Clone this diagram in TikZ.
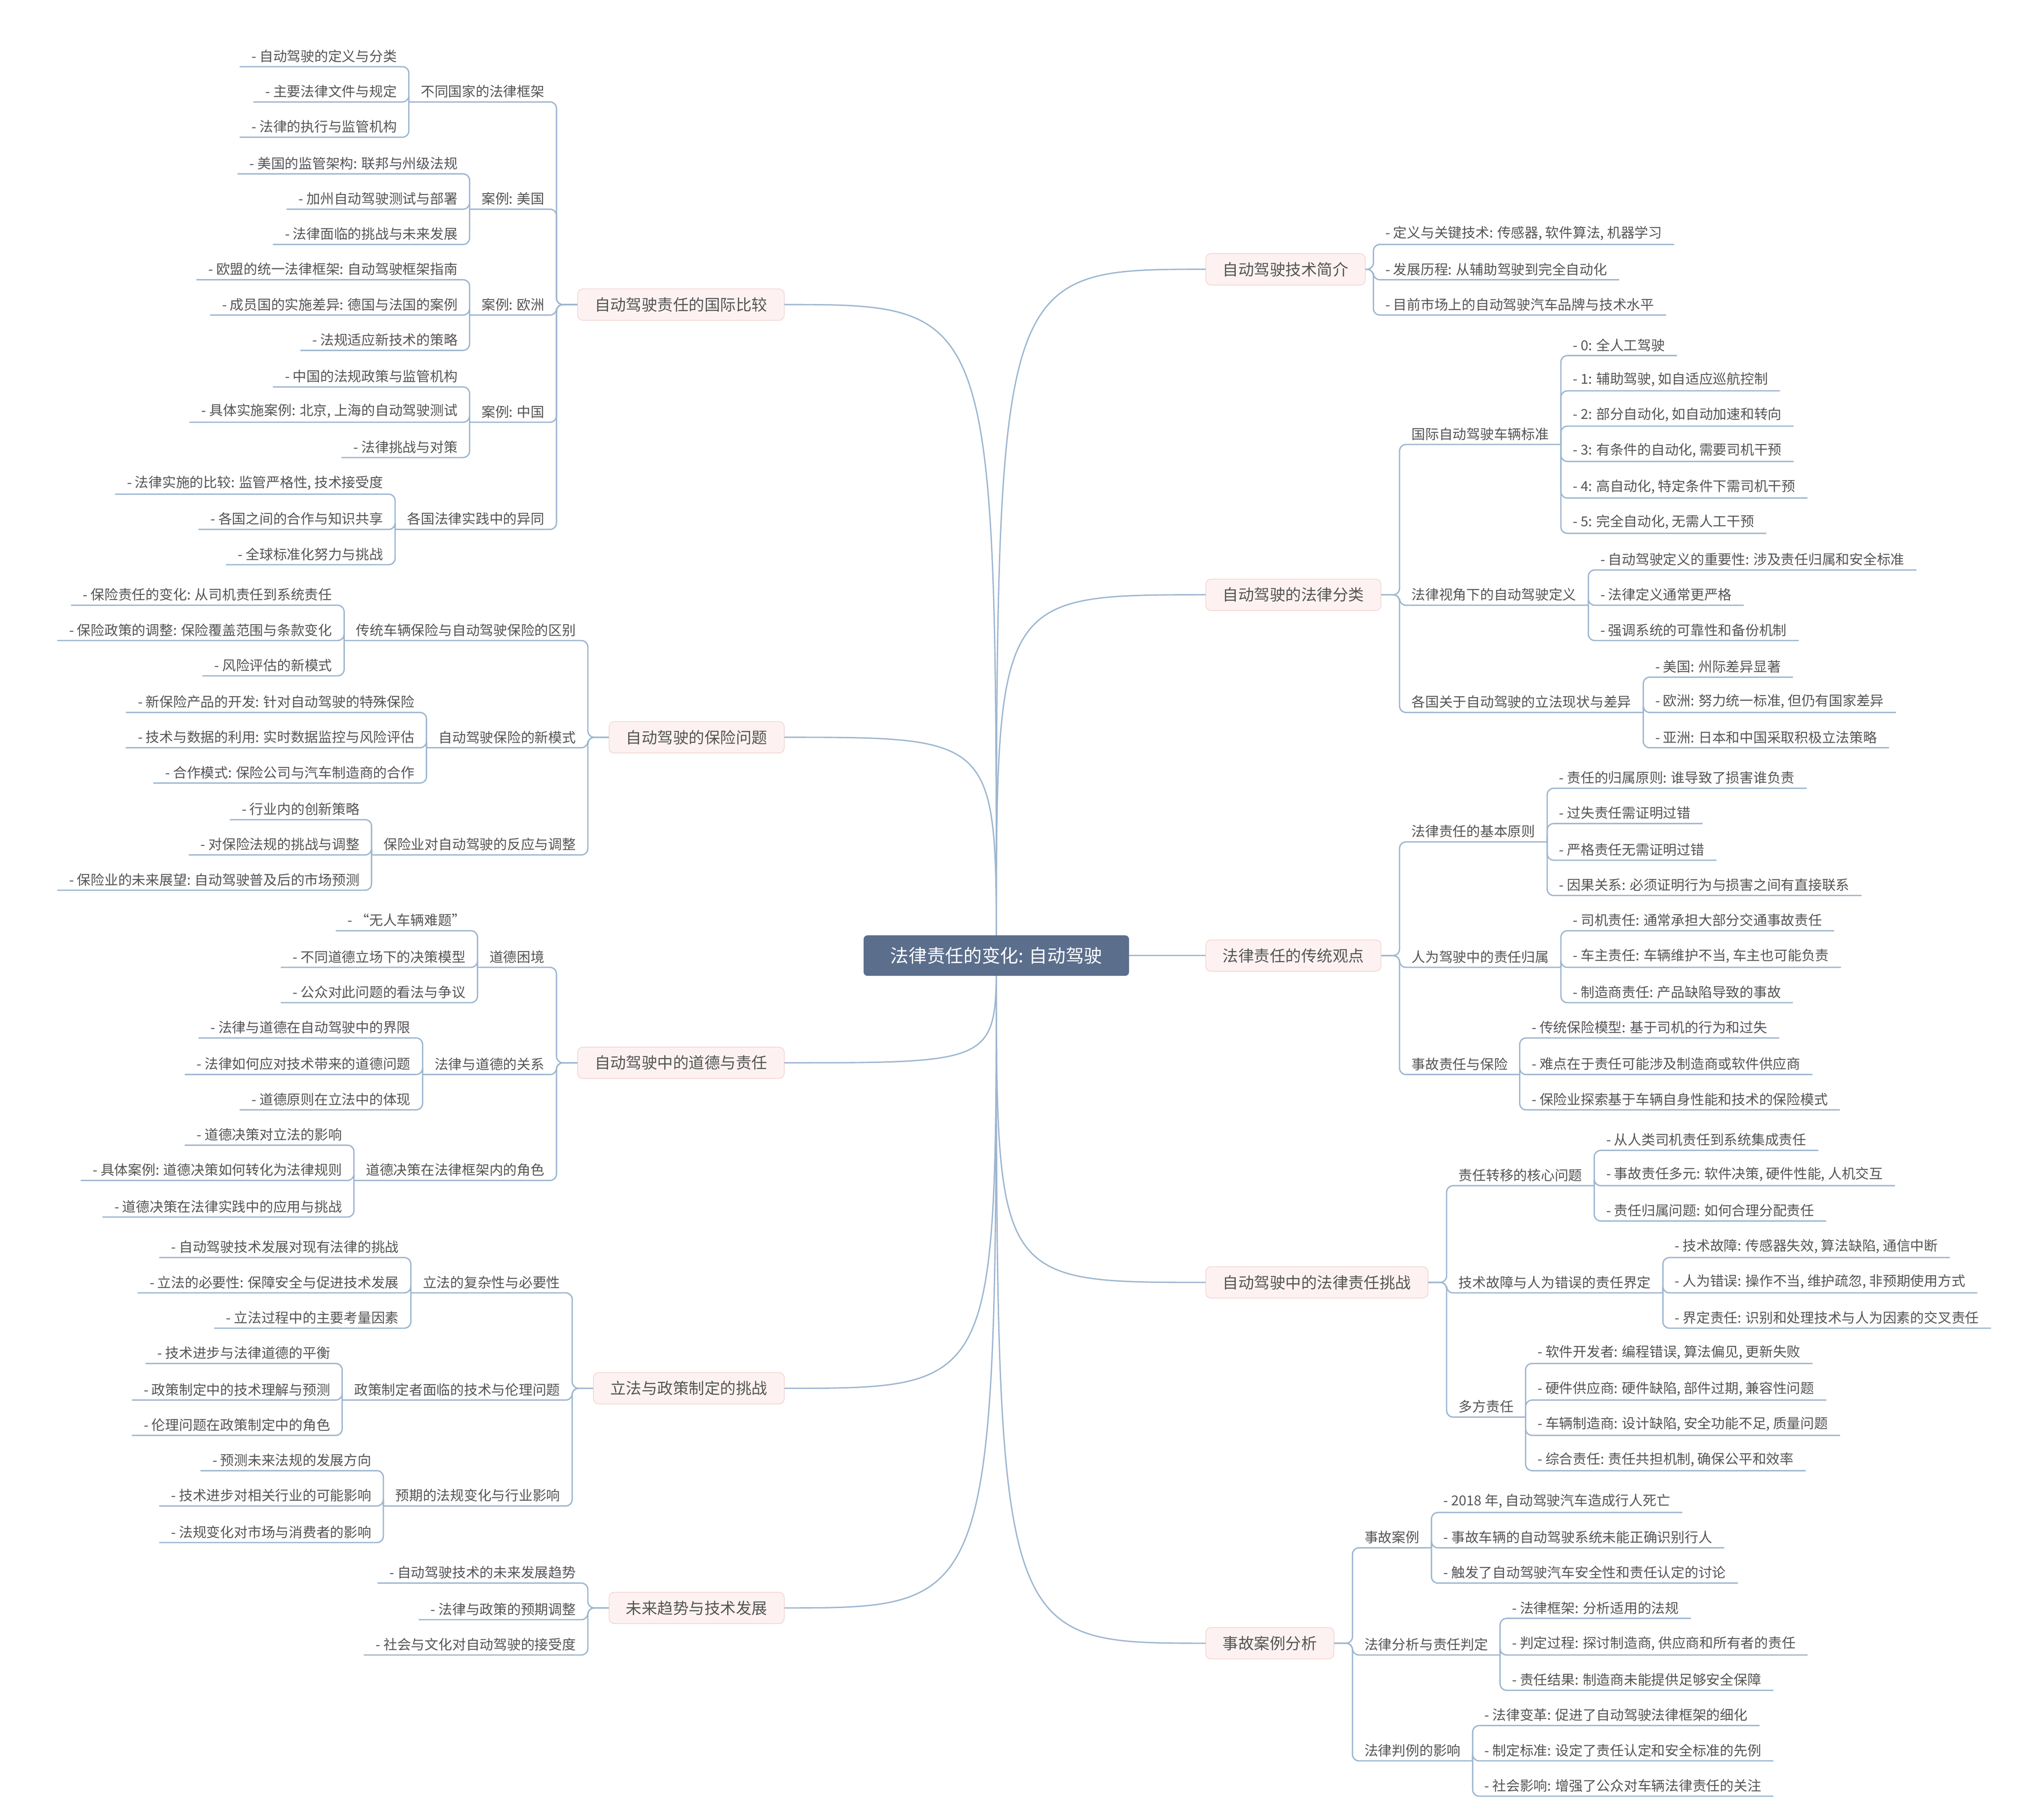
\documentclass[tikz,border=0pt]{standalone}
\usepackage{fontspec}
\setmainfont{Noto Sans CJK SC}
\usetikzlibrary{calc}
\definecolor{lc}{HTML}{9DB6D0}
\definecolor{tc}{HTML}{555555}
\definecolor{mf}{HTML}{FDF2F1}
\definecolor{md}{HTML}{EFC9C5}
\definecolor{cf}{HTML}{5B6E8C}
\newcount\kc
\tikzset{
 conn/.style={draw=lc,line width=1pt,rounded corners=5pt},
 txt/.style={inner xsep=9pt,inner ysep=3pt,text=tc,font=\fontsize{10.5}{12}\selectfont},
 mainn/.style={draw=md,fill=mf,rounded corners=4pt,text=tc,font=\fontsize{12}{14}\selectfont,inner xsep=13pt,minimum height=24pt},
 cen/.style={fill=cf,rounded corners=3pt,text=white,font=\fontsize{14}{16}\selectfont,minimum width=203pt,minimum height=31pt}
}
\newcommand\mygrp[2]{\coordinate (gp) at (#1);\coordinate (gb) at ($(#1)+(#2,0)$);}
\newcommand\kidR[3]{\coordinate (y#3) at (0,#1);
 \node[txt,anchor=south west] (#3) at (gb |- y#3) {#2};
 \draw[conn] (gp) -| (gb |- y#3) -- (#3.south east);}
\newcommand\kidL[3]{\coordinate (y#3) at (0,#1);
 \node[txt,anchor=south east] (#3) at (gb |- y#3) {#2};
 \draw[conn] (gp) -| (gb |- y#3) -- (#3.south west);}
\newcommand\leafR[2]{\global\advance\kc by1\edef\nm{n\the\kc}\kidR{#1}{#2}{\nm}}
\newcommand\leafL[2]{\global\advance\kc by1\edef\nm{n\the\kc}\kidL{#1}{#2}{\nm}}
\newcommand\mainR[3]{\node[mainn,anchor=west] (#3) at (922,#1) {#2};
 \draw[conn] (c) .. controls (762,#1) .. (#3.west);}
\newcommand\mainL[3]{\node[mainn,anchor=east] (#3) at (600,#1) {#2};
 \draw[conn] (c) .. controls (762,#1) .. (#3.east);}
\begin{document}
\begin{tikzpicture}[x=1pt,y=-1pt]
\useasboundingbox[fill=white] (0,0) rectangle (1548,1392);
\coordinate (c) at (762,731);
% ---------- right ----------
\mainR{206}{自动驾驶技术简介}{m1}
\mygrp{m1.east}{6}
\leafR{187}{- 定义与关键技术: 传感器, 软件算法, 机器学习}
\leafR{214}{- 发展历程: 从辅助驾驶到完全自动化}
\leafR{241}{- 目前市场上的自动驾驶汽车品牌与技术水平}

\mainR{455}{自动驾驶的法律分类}{m2}
\mygrp{m2.east}{14}
\kidR{340}{国际自动驾驶车辆标准}{s21}
\kidR{463}{法律视角下的自动驾驶定义}{s22}
\kidR{545}{各国关于自动驾驶的立法现状与差异}{s23}
\mygrp{s21.south east}{0}
\leafR{272}{- 0: 全人工驾驶}
\leafR{299}{- 1: 辅助驾驶, 如自适应巡航控制}
\leafR{326}{- 2: 部分自动化, 如自动加速和转向}
\leafR{353}{- 3: 有条件的自动化, 需要司机干预}
\leafR{381}{- 4: 高自动化, 特定条件下需司机干预}
\leafR{408}{- 5: 完全自动化, 无需人工干预}
\mygrp{s22.south east}{0}
\leafR{436}{- 自动驾驶定义的重要性: 涉及责任归属和安全标准}
\leafR{463}{- 法律定义通常更严格}
\leafR{490}{- 强调系统的可靠性和备份机制}
\mygrp{s23.south east}{0}
\leafR{518}{- 美国: 州际差异显著}
\leafR{545}{- 欧洲: 努力统一标准, 但仍有国家差异}
\leafR{572}{- 亚洲: 日本和中国采取积极立法策略}

\mainR{731}{法律责任的传统观点}{m3}
\mygrp{m3.east}{14}
\kidR{644}{法律责任的基本原则}{s31}
\kidR{740}{人为驾驶中的责任归属}{s32}
\kidR{822}{事故责任与保险}{s33}
\mygrp{s31.south east}{0}
\leafR{603}{- 责任的归属原则: 谁导致了损害谁负责}
\leafR{630}{- 过失责任需证明过错}
\leafR{658}{- 严格责任无需证明过错}
\leafR{685}{- 因果关系: 必须证明行为与损害之间有直接联系}
\mygrp{s32.south east}{0}
\leafR{712}{- 司机责任: 通常承担大部分交通事故责任}
\leafR{740}{- 车主责任: 车辆维护不当, 车主也可能负责}
\leafR{767}{- 制造商责任: 产品缺陷导致的事故}
\mygrp{s33.south east}{0}
\leafR{794}{- 传统保险模型: 基于司机的行为和过失}
\leafR{822}{- 难点在于责任可能涉及制造商或软件供应商}
\leafR{849}{- 保险业探索基于车辆自身性能和技术的保险模式}

\mainR{981}{自动驾驶中的法律责任挑战}{m4}
\mygrp{m4.east}{14}
\kidR{907}{责任转移的核心问题}{s41}
\kidR{989}{技术故障与人为错误的责任界定}{s42}
\kidR{1084}{多方责任}{s43}
\mygrp{s41.south east}{0}
\leafR{880}{- 从人类司机责任到系统集成责任}
\leafR{907}{- 事故责任多元: 软件决策, 硬件性能, 人机交互}
\leafR{934}{- 责任归属问题: 如何合理分配责任}
\mygrp{s42.south east}{0}
\leafR{962}{- 技术故障: 传感器失效, 算法缺陷, 通信中断}
\leafR{989}{- 人为错误: 操作不当, 维护疏忽, 非预期使用方式}
\leafR{1016}{- 界定责任: 识别和处理技术与人为因素的交叉责任}
\mygrp{s43.south east}{0}
\leafR{1043}{- 软件开发者: 编程错误, 算法偏见, 更新失败}
\leafR{1071}{- 硬件供应商: 硬件缺陷, 部件过期, 兼容性问题}
\leafR{1098}{- 车辆制造商: 设计缺陷, 安全功能不足, 质量问题}
\leafR{1125}{- 综合责任: 责任共担机制, 确保公平和效率}

\mainR{1257}{事故案例分析}{m5}
\mygrp{m5.east}{14}
\kidR{1184}{事故案例}{s51}
\kidR{1266}{法律分析与责任判定}{s52}
\kidR{1347}{法律判例的影响}{s53}
\mygrp{s51.south east}{0}
\leafR{1157}{- 2018 年, 自动驾驶汽车造成行人死亡}
\leafR{1184}{- 事故车辆的自动驾驶系统未能正确识别行人}
\leafR{1211}{- 触发了自动驾驶汽车安全性和责任认定的讨论}
\mygrp{s52.south east}{0}
\leafR{1238}{- 法律框架: 分析适用的法规}
\leafR{1266}{- 判定过程: 探讨制造商, 供应商和所有者的责任}
\leafR{1293}{- 责任结果: 制造商未能提供足够安全保障}
\mygrp{s53.south east}{0}
\leafR{1320}{- 法律变革: 促进了自动驾驶法律框架的细化}
\leafR{1347}{- 制定标准: 设定了责任认定和安全标准的先例}
\leafR{1374}{- 社会影响: 增强了公众对车辆法律责任的关注}

% ---------- left ----------
\mainL{233}{自动驾驶责任的国际比较}{l1}
\mygrp{l1.west}{-16}
\kidL{78}{不同国家的法律框架}{t11}
\kidL{160}{案例: 美国}{t12}
\kidL{241}{案例: 欧洲}{t13}
\kidL{323}{案例: 中国}{t14}
\kidL{405}{各国法律实践中的异同}{t15}
\mygrp{t11.south west}{0}
\leafL{51}{- 自动驾驶的定义与分类}
\leafL{78}{- 主要法律文件与规定}
\leafL{105}{- 法律的执行与监管机构}
\mygrp{t12.south west}{0}
\leafL{133}{- 美国的监管架构: 联邦与州级法规}
\leafL{160}{- 加州自动驾驶测试与部署}
\leafL{187}{- 法律面临的挑战与未来发展}
\mygrp{t13.south west}{0}
\leafL{214}{- 欧盟的统一法律框架: 自动驾驶框架指南}
\leafL{241}{- 成员国的实施差异: 德国与法国的案例}
\leafL{268}{- 法规适应新技术的策略}
\mygrp{t14.south west}{0}
\leafL{296}{- 中国的法规政策与监管机构}
\leafL{323}{- 具体实施案例: 北京, 上海的自动驾驶测试}
\leafL{350}{- 法律挑战与对策}
\mygrp{t15.south west}{0}
\leafL{378}{- 法律实施的比较: 监管严格性, 技术接受度}
\leafL{405}{- 各国之间的合作与知识共享}
\leafL{432}{- 全球标准化努力与挑战}

\mainL{564}{自动驾驶的保险问题}{l2}
\mygrp{l2.west}{-16}
\kidL{490}{传统车辆保险与自动驾驶保险的区别}{t21}
\kidL{572}{自动驾驶保险的新模式}{t22}
\kidL{654}{保险业对自动驾驶的反应与调整}{t23}
\mygrp{t21.south west}{0}
\leafL{463}{- 保险责任的变化: 从司机责任到系统责任}
\leafL{490}{- 保险政策的调整: 保险覆盖范围与条款变化}
\leafL{517}{- 风险评估的新模式}
\mygrp{t22.south west}{0}
\leafL{545}{- 新保险产品的开发: 针对自动驾驶的特殊保险}
\leafL{572}{- 技术与数据的利用: 实时数据监控与风险评估}
\leafL{599}{- 合作模式: 保险公司与汽车制造商的合作}
\mygrp{t23.south west}{0}
\leafL{627}{- 行业内的创新策略}
\leafL{654}{- 对保险法规的挑战与调整}
\leafL{681}{- 保险业的未来展望: 自动驾驶普及后的市场预测}

\mainL{813}{自动驾驶中的道德与责任}{l3}
\mygrp{l3.west}{-16}
\kidL{740}{道德困境}{t31}
\kidL{822}{法律与道德的关系}{t32}
\kidL{903}{道德决策在法律框架内的角色}{t33}
\mygrp{t31.south west}{0}
\leafL{712}{- “无人车辆难题”}
\leafL{740}{- 不同道德立场下的决策模型}
\leafL{767}{- 公众对此问题的看法与争议}
\mygrp{t32.south west}{0}
\leafL{794}{- 法律与道德在自动驾驶中的界限}
\leafL{822}{- 法律如何应对技术带来的道德问题}
\leafL{849}{- 道德原则在立法中的体现}
\mygrp{t33.south west}{0}
\leafL{876}{- 道德决策对立法的影响}
\leafL{903}{- 具体案例: 道德决策如何转化为法律规则}
\leafL{931}{- 道德决策在法律实践中的应用与挑战}

\mainL{1062}{立法与政策制定的挑战}{l4}
\mygrp{l4.west}{-16}
\kidL{989}{立法的复杂性与必要性}{t41}
\kidL{1071}{政策制定者面临的技术与伦理问题}{t42}
\kidL{1152}{预期的法规变化与行业影响}{t43}
\mygrp{t41.south west}{0}
\leafL{962}{- 自动驾驶技术发展对现有法律的挑战}
\leafL{989}{- 立法的必要性: 保障安全与促进技术发展}
\leafL{1016}{- 立法过程中的主要考量因素}
\mygrp{t42.south west}{0}
\leafL{1043}{- 技术进步与法律道德的平衡}
\leafL{1071}{- 政策制定中的技术理解与预测}
\leafL{1098}{- 伦理问题在政策制定中的角色}
\mygrp{t43.south west}{0}
\leafL{1125}{- 预测未来法规的发展方向}
\leafL{1152}{- 技术进步对相关行业的可能影响}
\leafL{1180}{- 法规变化对市场与消费者的影响}

\mainL{1230}{未来趋势与技术发展}{l5}
\mygrp{l5.west}{-16}
\leafL{1211}{- 自动驾驶技术的未来发展趋势}
\leafL{1239}{- 法律与政策的预期调整}
\leafL{1266}{- 社会与文化对自动驾驶的接受度}

\node[cen] (center) at (c) {法律责任的变化: 自动驾驶};
\end{tikzpicture}
\end{document}
